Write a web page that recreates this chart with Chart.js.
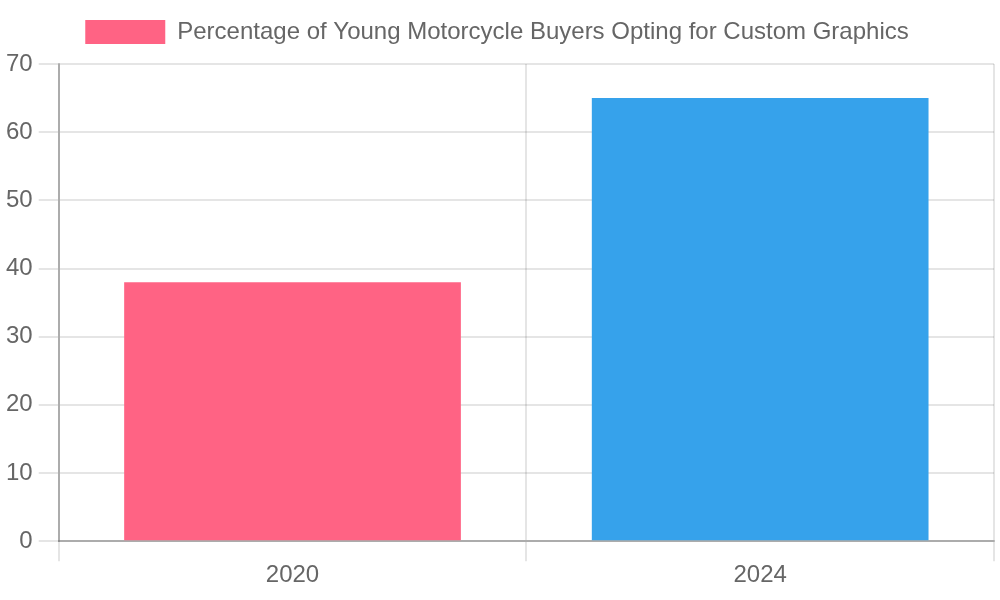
<!DOCTYPE html>
<html>
<head>
  <meta charset="utf-8" />
  <script src="https://cdn.jsdelivr.net/npm/chart.js@4.4.1/dist/chart.umd.min.js"></script>
  <style>
    body { margin:0; background:#fff; overflow:hidden; }
    #holder { width:1000px; height:600px; }
  </style>
</head>
<body>
<div id="holder"><canvas id="chart" width="1000" height="600"></canvas></div>
<script>
const years = ["2020", "2024"];
const percentages = [38, 65];
const barColors = ["#FF6384", "#36A2EB"];
const seriesLabel = "Percentage of Young Motorcycle Buyers Opting for Custom Graphics";

// everything is drawn at twice the usual chart.js sizes
Chart.defaults.font.family = "'Helvetica Neue', Helvetica, Arial, 'Liberation Sans', sans-serif";
Chart.defaults.font.size = 24;
Chart.defaults.color = "#666";

const gridOpts = { color: "rgba(0,0,0,0.1)", lineWidth: 2, tickLength: 20, tickWidth: 2 };
const borderOpts = { color: "rgba(0,0,0,0.25)", width: 2 };

// a bit more room under the legend
const legendGap = {
  id: "legendGap",
  beforeInit(chart) {
    const fit = chart.legend.fit;
    chart.legend.fit = function () { fit.call(this); this.height += 10; };
  }
};

new Chart(document.getElementById("chart"), {
  type: "bar",
  data: {
    labels: years,
    datasets: [{ label: seriesLabel, data: percentages, backgroundColor: barColors, borderWidth: 0 }]
  },
  options: {
    responsive: false,
    devicePixelRatio: 1,
    animation: false,
    layout: { padding: { right: 6, bottom: 10 } },
    plugins: {
      legend: { labels: { boxWidth: 80, boxHeight: 24, padding: 20 } },
      tooltip: { enabled: false }
    },
    scales: {
      x: {
        grid: gridOpts,
        border: borderOpts,
        ticks: { padding: 0 }
      },
      y: {
        beginAtZero: true,
        max: 70,
        ticks: { stepSize: 10, padding: 6 },
        grid: gridOpts,
        border: borderOpts
      }
    }
  },
  plugins: [legendGap]
});
</script>
</body>
</html>
